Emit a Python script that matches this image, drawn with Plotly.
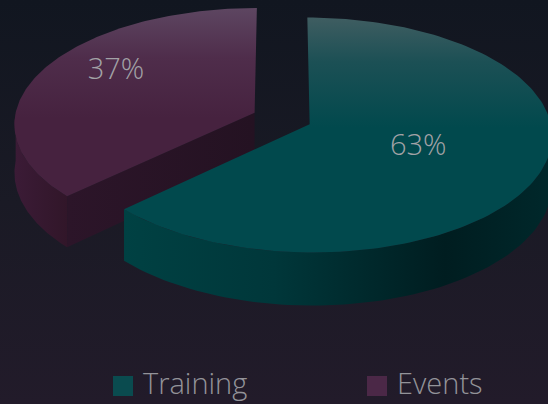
import numpy as np
import plotly.graph_objects as go

# ---- data ----
labels = ["Training", "Events"]
values = [63, 37]

# ---- styles ----
W, H = 548, 404
CX, CY = 282.0, 118.5      # projected centre of the pie
A, B, D = 115.4, 240.0, 48.0  # vertical radius, horizontal radius, thickness
K = 0.091                  # perspective strength
EXPLODE = 0.125

styles = {
    "Training": dict(
        top=[[0, "#3f5d61"], [0.4, "#1c5055"], [1, "#01494d"]],
        side=[[0, "#004143"], [0.35, "#00373a"], [0.75, "#001d20"], [1, "#00282b"]],
        radial=[[0, "#003234"], [1, "#00282a"]],
        legend="#0a4b4f",
        textpos="middle center",
        label_r=0.48,
        label_z=0.02,
        legend_x=113,
    ),
    "Events": dict(
        top=[[0, "#5d4661"], [0.45, "#4f2d4b"], [1, "#46223f"]],
        side=[[0, "#3b1b36"], [1, "#311629"]],
        radial=[[0, "#2c1529"], [1, "#241222"]],
        legend="#4b2847",
        textpos="top center",
        label_r=0.65,
        label_z=0.04,
        legend_x=367,
    ),
}
TEXT_COLOR = "#a2a2a6"
LEGEND_TEXT = "#939399"
FONT = "Open Sans"
LEGEND_Y = 386
LEGEND_TEXT_Y = 382
LEGEND_BOX = 20


def proj(X, Y, Z):
    p = 1 + K * Y
    return CX + B * X / p, CY + (-A * Y + D * Z) / p


def pt(t, r, z, off):
    return proj(off[0] + r * np.sin(t), off[1] + r * np.cos(t), z)


fig = go.Figure()

# background
fig.add_trace(go.Scatter(
    x=[0, W, W, 0, 0], y=[0, 0, H, H, 0], mode="lines", line=dict(width=0),
    fill="toself",
    fillgradient=dict(type="vertical", start=0, stop=H,
                      colorscale=[[0, "#111620"], [0.5, "#1a1a25"], [1, "#221b2a"]]),
    hoverinfo="skip", showlegend=False))

total = float(sum(values))
slices = []
cum = 0.0
for lab, v in zip(labels, values):
    t0 = 2 * np.pi * cum / total
    t1 = 2 * np.pi * (cum + v) / total
    mid = (t0 + t1) / 2
    off = (EXPLODE * np.sin(mid), EXPLODE * np.cos(mid))
    slices.append((lab, v, t0, t1, mid, off))
    cum += v

# draw back slices first
for lab, v, t0, t1, mid, off in sorted(slices, key=lambda s: -s[5][1]):
    st = styles[lab]
    # outer side (front-facing part)
    a0, a1 = max(t0, np.pi / 2), min(t1, 3 * np.pi / 2)
    if a1 > a0:
        ts = np.linspace(a0, a1, 80)
        top = [pt(t, 1, 0, off) for t in ts]
        bot = [pt(t, 1, 1, off) for t in ts[::-1]]
        xs = [p[0] for p in top + bot] + [top[0][0]]
        ys = [p[1] for p in top + bot] + [top[0][1]]
        fig.add_trace(go.Scatter(
            x=xs, y=ys, mode="lines", line=dict(width=0), fill="toself",
            fillgradient=dict(type="horizontal", start=min(xs), stop=max(xs), colorscale=st["side"]),
            hoverinfo="skip", showlegend=False))
    # radial faces
    for t, visible in ((t0, np.sin(t0) < -1e-6), (t1, np.sin(t1) > 1e-6)):
        if visible:
            c0, c1 = pt(t, 0, 0, off), pt(t, 1, 0, off)
            c2, c3 = pt(t, 1, 1, off), pt(t, 0, 1, off)
            xs = [c0[0], c1[0], c2[0], c3[0], c0[0]]
            ys = [c0[1], c1[1], c2[1], c3[1], c0[1]]
            fig.add_trace(go.Scatter(
                x=xs, y=ys, mode="lines", line=dict(width=0), fill="toself",
                fillgradient=dict(type="horizontal", start=min(xs), stop=max(xs), colorscale=st["radial"]),
                hoverinfo="skip", showlegend=False))
    # top face
    ts = np.linspace(t0, t1, 160)
    arc = [pt(t, 1, 0, off) for t in ts]
    c = pt(0, 0, 0, off)
    xs = [c[0]] + [p[0] for p in arc] + [c[0]]
    ys = [c[1]] + [p[1] for p in arc] + [c[1]]
    fig.add_trace(go.Scatter(
        x=xs, y=ys, mode="lines", line=dict(width=0), fill="toself",
        fillgradient=dict(type="vertical", start=min(ys), stop=min(ys) + 110, colorscale=st["top"]),
        hoverinfo="skip", showlegend=False))

# percentage labels
for lab, v, t0, t1, mid, off in slices:
    lx, ly = pt(mid, styles[lab]["label_r"], styles[lab]["label_z"], off)
    fig.add_trace(go.Scatter(
        x=[lx], y=[ly], mode="text", text=[f"{round(100 * v / total)}%"],
        textposition=styles[lab]["textpos"],
        textfont=dict(family=FONT, size=29, color=TEXT_COLOR, weight=300),
        hoverinfo="skip", showlegend=False))

# legend (drawn as layout shapes + annotations)
shapes, annotations = [], []
for lab in labels:
    lx = styles[lab]["legend_x"]
    shapes.append(dict(type="rect", xref="x", yref="y", x0=lx, x1=lx + LEGEND_BOX,
                       y0=LEGEND_Y - LEGEND_BOX / 2, y1=LEGEND_Y + LEGEND_BOX / 2,
                       fillcolor=styles[lab]["legend"], line=dict(width=0), layer="above"))
    annotations.append(dict(x=lx + LEGEND_BOX + 9, y=LEGEND_TEXT_Y, xref="x", yref="y",
                            text=lab, showarrow=False, xanchor="left", yanchor="middle",
                            borderpad=0,
                            font=dict(family=FONT, size=29, color=LEGEND_TEXT, weight=300)))

fig.update_layout(
    width=W, height=H, autosize=False,
    margin=dict(l=0, r=0, t=0, b=0),
    paper_bgcolor="#1a1a25", plot_bgcolor="rgba(0,0,0,0)",
    xaxis=dict(range=[0, W], visible=False, fixedrange=True),
    yaxis=dict(range=[H, 0], visible=False, fixedrange=True),
    shapes=shapes, annotations=annotations,
    showlegend=False,
    hovermode=False,
)

fig.write_html("out.html", config=dict(displayModeBar=False),
               post_script="document.body.style.margin='0';document.body.style.background='#1a1a25';")
